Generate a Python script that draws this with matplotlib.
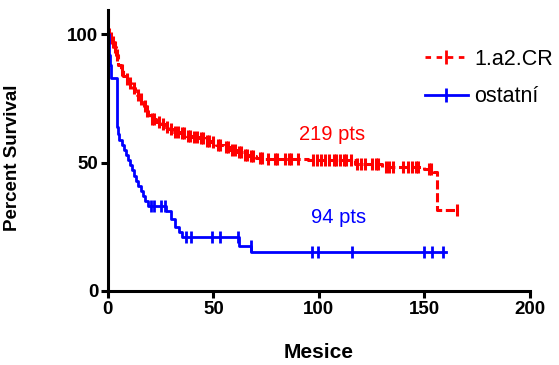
import numpy as np
import matplotlib
matplotlib.use("Agg")
import matplotlib.pyplot as plt
from matplotlib.lines import Line2D

plt.rcParams['font.family'] = ['Liberation Sans', 'DejaVu Sans']

# ---- data ----
red_label = "1.a2.CR"
red_times = [0, 1, 2, 3, 4, 5, 6, 7, 8, 10, 11, 12, 13, 14, 15, 16, 17, 18, 19, 20,
             23, 25, 27, 29, 31, 34, 37, 40, 43, 46, 49, 51, 55, 58, 61, 64, 67, 70,
             74, 77, 95, 117, 130, 150, 154, 156]
red_surv = [100, 98.5, 97, 95, 92, 88, 86, 84, 82.5, 81, 80, 79, 78, 76.5, 75, 73.5,
            72, 70, 68.5, 67, 66, 65, 64, 63, 62, 61.5, 60.5, 60, 59.5, 58.5, 58, 57,
            56, 55, 54, 53, 52.5, 52, 51.5, 51.5, 51, 49.5, 48.5, 47.5, 46.5, 31.5]
red_end = 165.5
red_censor = [0.5, 1.5, 2.5, 3.5, 4.5, 6.5, 9, 10.5, 12.5, 14.5, 15.5, 17.5, 18.5,
              21, 22, 24, 26, 28, 30, 32, 33, 35, 36, 38, 39, 41, 42, 44, 45, 47, 48,
              50, 52, 53, 56, 57, 59, 60, 62, 63, 65, 66, 68, 69, 72, 73, 76, 79, 80,
              84, 86, 87, 90, 97, 99, 101, 103, 105, 107, 108, 110, 112, 113, 115,
              118, 120, 122, 125, 127, 128, 132, 133, 135, 140, 142, 144, 146, 147,
              152, 153, 165.5]

blue_label = "ostatní"
blue_times = [0, 0.3, 0.6, 0.9, 1.3, 4.3, 5, 5.5, 6.5, 7.5, 8.5, 9.5, 10.5, 11.5,
              12.5, 13.5, 14.5, 15.5, 16.5, 17.5, 19, 27.7, 30, 32, 33.5, 35, 62, 68]
blue_surv = [100, 96, 92, 88, 83, 64, 61, 59, 57, 55, 53, 51, 49, 47, 45, 43, 41,
             39, 37, 35, 33, 31, 28, 25, 23, 21, 17.5, 15]
blue_end = 160
blue_censor = [20.5, 22, 25, 27, 37, 39.5, 49.3, 53, 61.5, 67.8, 96.7, 99.5, 115.6,
               150, 153.5, 159]

red_note = "219 pts"
blue_note = "94 pts"

x_ticks = [0, 50, 100, 150, 200]
y_ticks = [0, 50, 100]
RED = "#ff0000"
BLUE = "#0000ff"


def surv_at(times, surv, t):
    idx = np.searchsorted(np.asarray(times), np.asarray(t), side='right') - 1
    return np.asarray(surv)[idx]


fig = plt.figure(figsize=(5.59, 3.65), dpi=100)
ax = fig.add_axes([0.193, 0.203, 0.755, 0.770])

# red curve (dashed)
rx = list(red_times) + [red_end]
ry = list(red_surv) + [red_surv[-1]]
ax.step(rx, ry, where='post', color=RED, lw=2.2, ls=(0, (3, 1.2)), clip_on=False)
ax.plot(red_censor, surv_at(red_times, red_surv, red_censor), ls='none',
        marker='|', ms=8, mew=2.2, color=RED, clip_on=False)

# blue curve
bx = list(blue_times) + [blue_end]
by = list(blue_surv) + [blue_surv[-1]]
ax.step(bx, by, where='post', color=BLUE, lw=2.0, clip_on=False)
ax.plot(blue_censor, surv_at(blue_times, blue_surv, blue_censor), ls='none',
        marker='|', ms=8, mew=2.0, color=BLUE, clip_on=False)

ax.set_xlim(0, 200)
ax.set_ylim(0, 109.6)
ax.set_xticks(x_ticks)
ax.set_yticks(y_ticks)
for s in ['top', 'right']:
    ax.spines[s].set_visible(False)
for s in ['left', 'bottom']:
    ax.spines[s].set_linewidth(2.2)
ax.tick_params(axis='both', width=2.2, length=5, labelsize=13.5, pad=2)
for lab in ax.get_xticklabels() + ax.get_yticklabels():
    lab.set_fontweight('bold')

ax.set_xlabel("Mesice", fontsize=15, fontweight='bold', labelpad=18)
ax.set_ylabel("Percent Survival", fontsize=13.5, fontweight='bold')
ax.yaxis.set_label_coords(-0.205, 0.475)

ax.text(106, 60.8, red_note, color=RED, fontsize=14.5, ha='center', va='center')
ax.text(109.5, 28.5, blue_note, color=BLUE, fontsize=14.5, ha='center', va='center')

handles = [
    Line2D([0], [0], color=RED, lw=2.0, ls=(0, (2, 2)), marker='|', ms=10,
           mew=2, markevery=[1]),
    Line2D([0], [0], color=BLUE, lw=2.0, marker='|', ms=10, mew=2, markevery=[1]),
]
for h in handles:
    h.set_xdata([0, 0.5, 1]); h.set_ydata([0, 0, 0])
leg = ax.legend(handles, [red_label, blue_label], loc='upper left',
                bbox_to_anchor=(0.705, 0.93), frameon=False, fontsize=15.5,
                handlelength=2.0, handletextpad=0.3, labelspacing=0.75)

fig.savefig("out.png", dpi=100)
